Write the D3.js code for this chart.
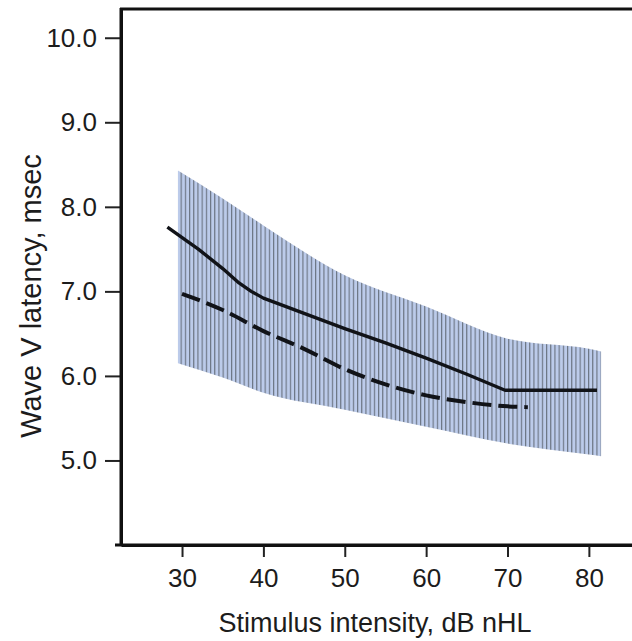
<!DOCTYPE html>
<html>
<head>
<meta charset="utf-8">
<script src="https://cdn.jsdelivr.net/npm/d3@7"></script>
<style>
  html, body { margin: 0; padding: 0; background: #fff; }
  svg { display: block; }
  text { font-family: "Liberation Sans", Arial, "DejaVu Sans", sans-serif; fill: #1c1c1c; }
</style>
</head>
<body>
<svg id="chart" width="632" height="641"></svg>
<script>
// Wave V latency vs. stimulus intensity: normal range band, mean curves.
const xTicks = [30, 40, 50, 60, 70, 80];
const yTicks = [5, 6, 7, 8, 9, 10];

// Normal range (upper / lower limits), msec
const bandIntensity = [29.5, 35, 40, 50, 60, 70, 80, 81.5];
const bandUpper     = [8.43, 8.10, 7.78, 7.19, 6.82, 6.44, 6.32, 6.29];
const bandLower     = [6.15, 5.98, 5.80, 5.60, 5.40, 5.20, 5.07, 5.05];

// Solid curve
const solidIntensity = [28.2, 32, 35, 37, 38.5, 40, 45, 50, 55, 60, 65, 69.7, 81];
const solidLatency   = [7.76, 7.50, 7.27, 7.10, 7.00, 6.92, 6.74, 6.56, 6.39, 6.21, 6.02, 5.83, 5.83];

// Dashed curve
const dashIntensity = [30, 35, 40, 45, 50, 55, 60, 65, 70, 72.5];
const dashLatency   = [6.97, 6.78, 6.53, 6.32, 6.08, 5.90, 5.77, 5.69, 5.64, 5.63];

const svg = d3.select("#chart");

const x = d3.scaleLinear().domain([22.5, 85.3]).range([121, 632]);
const y = d3.scaleLinear().domain([4.0, 10.34]).range([545, 9]);

// Hatch pattern: light blue fill with thin grey vertical rules
const defs = svg.append("defs");
const pat = defs.append("pattern")
  .attr("id", "hatch")
  .attr("patternUnits", "userSpaceOnUse")
  .attr("width", 4.2).attr("height", 20);
pat.append("rect").attr("width", 4.2).attr("height", 20).attr("fill", "#bccbea");
pat.append("line")
  .attr("x1", 0.6).attr("x2", 0.6).attr("y1", 0).attr("y2", 20)
  .attr("stroke", "#5e6672").attr("stroke-width", 1);

const band = bandIntensity.map((d, i) => ({ x: d, hi: bandUpper[i], lo: bandLower[i] }));
const area = d3.area()
  .x(d => x(d.x))
  .y0(d => y(d.lo))
  .y1(d => y(d.hi))
  .curve(d3.curveMonotoneX);
svg.append("path")
  .datum(band)
  .attr("d", area)
  .attr("fill", "url(#hatch)");

const smooth = d3.line().x(d => x(d[0])).y(d => y(d[1])).curve(d3.curveMonotoneX);
const straight = d3.line().x(d => x(d[0])).y(d => y(d[1]));

svg.append("path")
  .datum(solidIntensity.map((d, i) => [d, solidLatency[i]]))
  .attr("d", straight)
  .attr("fill", "none")
  .attr("stroke", "#111318")
  .attr("stroke-width", 3.4)
  .attr("stroke-linejoin", "round");

svg.append("path")
  .datum(dashIntensity.map((d, i) => [d, dashLatency[i]]))
  .attr("d", smooth)
  .attr("fill", "none")
  .attr("stroke", "#111318")
  .attr("stroke-width", 4)
  .attr("stroke-dasharray", "19,7");

// Axes
const yAxis = d3.axisLeft(y)
  .tickValues(yTicks)
  .tickFormat(d3.format(".1f"))
  .tickSize(16)
  .tickSizeOuter(0)
  .tickPadding(8);
const gy = svg.append("g").attr("transform", "translate(121,0)").call(yAxis);
gy.select(".domain").attr("stroke", "#111").attr("stroke-width", 3);
gy.selectAll(".tick line").attr("stroke", "#222").attr("stroke-width", 2);
gy.selectAll(".tick text").attr("font-size", 26).attr("fill", "#1c1c1c")
  .style("font-family", "'Liberation Sans', Arial, sans-serif");

const xAxis = d3.axisBottom(x)
  .tickValues(xTicks)
  .tickSize(12)
  .tickSizeOuter(0)
  .tickPadding(12);
const gx = svg.append("g").attr("transform", "translate(0,545)").call(xAxis);
gx.select(".domain").attr("stroke", "#111").attr("stroke-width", 3);
gx.selectAll(".tick line").attr("stroke", "#222").attr("stroke-width", 2);
gx.selectAll(".tick text").attr("font-size", 26).attr("fill", "#1c1c1c")
  .style("font-family", "'Liberation Sans', Arial, sans-serif");

// Frame: top rule and left/bottom extensions
svg.append("line")
  .attr("x1", 120).attr("x2", 632).attr("y1", 9).attr("y2", 9)
  .attr("stroke", "#111").attr("stroke-width", 3);
svg.append("line")
  .attr("x1", 121).attr("x2", 121).attr("y1", 8).attr("y2", 546)
  .attr("stroke", "#111").attr("stroke-width", 3);
svg.append("line")
  .attr("x1", 115).attr("x2", 632).attr("y1", 545).attr("y2", 545)
  .attr("stroke", "#111").attr("stroke-width", 3);

// Axis titles
svg.append("text")
  .attr("x", 375).attr("y", 632)
  .attr("text-anchor", "middle")
  .attr("font-size", 27)
  .text("Stimulus intensity, dB nHL");

svg.append("text")
  .attr("transform", "translate(41,296) rotate(-90)")
  .attr("text-anchor", "middle")
  .attr("font-size", 29)
  .text("Wave V latency, msec");
</script>
</body>
</html>
